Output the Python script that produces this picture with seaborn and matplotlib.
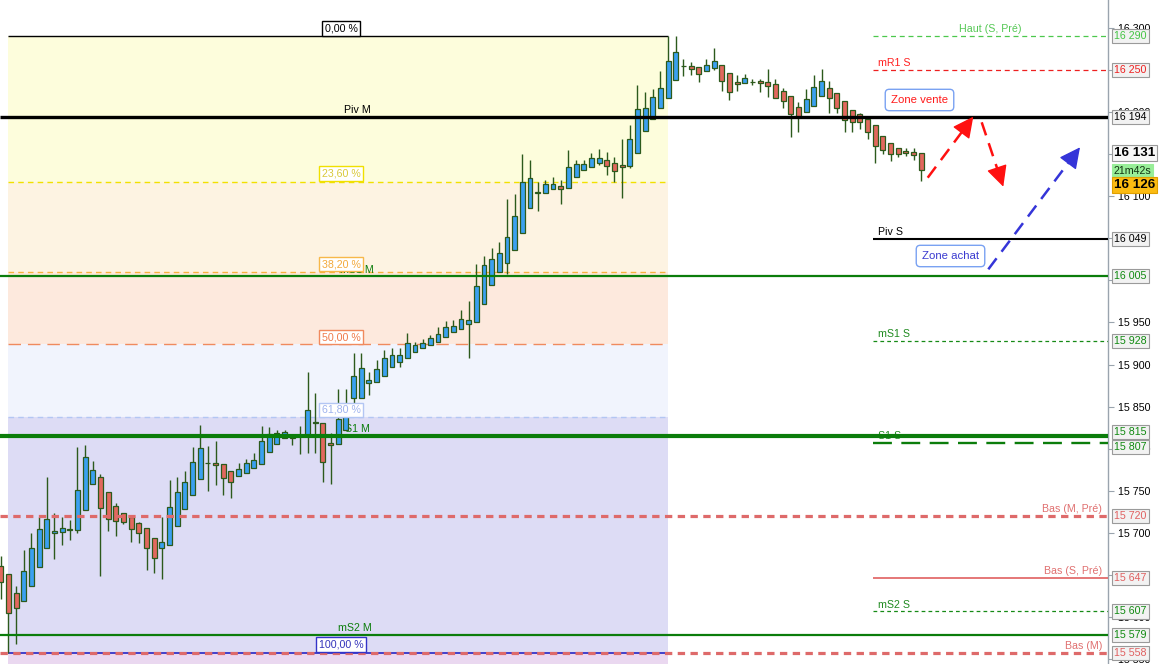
import numpy as np
import pandas as pd
import matplotlib
matplotlib.use("Agg")
import matplotlib.pyplot as plt
from matplotlib.ticker import FixedFormatter
import seaborn as sns

# ---------------- data ----------------
opens = [15661, 15651, 15629, 15619, 15637, 15660, 15682, 15700, 15701, 15704,
         15704, 15727, 15758, 15767, 15749, 15732, 15724, 15719, 15712, 15706,
         15694, 15682, 15686, 15708, 15729, 15745, 15764, 15783, 15783, 15782,
         15774, 15768, 15771, 15777, 15782, 15796, 15806, 15813, 15814, 15815,
         15815, 15831, 15831, 15807, 15806, 15822, 15860, 15860, 15878, 15879,
         15886, 15897, 15903, 15908, 15915, 15920, 15923, 15927, 15933, 15939,
         15942, 15948, 15951, 15972, 15994, 16010, 16021, 16036, 16056, 16086,
         16104, 16104, 16108, 16112, 16110, 16123, 16131, 16135, 16139, 16143,
         16139, 16137, 16136, 16151, 16177, 16192, 16205, 16216, 16238, 16254,
         16254, 16253, 16248, 16252, 16256, 16246, 16235, 16234, 16235, 16237,
         16235, 16233, 16225, 16219, 16206, 16200, 16207, 16219, 16228, 16222,
         16213, 16202, 16197, 16192, 16184, 16171, 16163, 16157, 16154, 16152,
         16151]
highs = [15673, 15651, 15637, 15680, 15700, 15719, 15767, 15724, 15719, 15716,
         15802, 15805, 15786, 15770, 15749, 15736, 15724, 15720, 15713, 15706,
         15694, 15719, 15763, 15767, 15774, 15802, 15828, 15803, 15809, 15782,
         15774, 15783, 15788, 15795, 15827, 15826, 15822, 15822, 15814, 15827,
         15891, 15866, 15831, 15819, 15871, 15871, 15914, 15914, 15891, 15905,
         15917, 15920, 15920, 15938, 15927, 15930, 15935, 15945, 15952, 15953,
         15965, 15975, 16019, 16029, 16038, 16046, 16097, 16102, 16150, 16143,
         16117, 16119, 16123, 16119, 16155, 16143, 16143, 16151, 16156, 16152,
         16146, 16168, 16184, 16232, 16224, 16227, 16248, 16290, 16290, 16263,
         16259, 16253, 16263, 16276, 16256, 16246, 16244, 16245, 16239, 16239,
         16251, 16239, 16228, 16219, 16212, 16227, 16244, 16251, 16237, 16222,
         16213, 16202, 16199, 16192, 16184, 16171, 16163, 16157, 16157, 16157,
         16151]
lows = [15622, 15558, 15568, 15619, 15637, 15660, 15682, 15669, 15686, 15692,
        15700, 15727, 15758, 15649, 15703, 15697, 15711, 15689, 15688, 15656,
        15653, 15646, 15686, 15708, 15729, 15745, 15764, 15750, 15757, 15745,
        15742, 15768, 15771, 15777, 15782, 15796, 15806, 15813, 15805, 15794,
        15795, 15795, 15761, 15758, 15806, 15822, 15852, 15860, 15864, 15879,
        15886, 15897, 15897, 15908, 15915, 15920, 15923, 15927, 15933, 15939,
        15942, 15908, 15951, 15972, 15994, 16010, 16008, 16036, 16056, 16086,
        16082, 16104, 16108, 16091, 16110, 16123, 16131, 16135, 16137, 16125,
        16117, 16098, 16133, 16151, 16177, 16192, 16205, 16216, 16238, 16243,
        16244, 16235, 16248, 16250, 16225, 16214, 16225, 16234, 16232, 16224,
        16218, 16216, 16205, 16170, 16176, 16200, 16207, 16219, 16199, 16199,
        16176, 16176, 16180, 16168, 16139, 16150, 16142, 16146, 16148, 16143,
        16118]
closes = [15642, 15605, 15611, 15655, 15682, 15705, 15717, 15703, 15706, 15704,
          15751, 15790, 15775, 15730, 15717, 15714, 15713, 15705, 15700, 15682,
          15670, 15689, 15731, 15749, 15761, 15784, 15801, 15783, 15781, 15765,
          15761, 15776, 15783, 15787, 15809, 15818, 15819, 15820, 15813, 15816,
          15846, 15831, 15784, 15805, 15835, 15849, 15886, 15896, 15882, 15895,
          15908, 15911, 15911, 15926, 15923, 15926, 15932, 15936, 15945, 15946,
          15954, 15953, 15993, 16018, 16025, 16032, 16051, 16076, 16117, 16121,
          16104, 16114, 16114, 16108, 16135, 16138, 16138, 16145, 16145, 16136,
          16130, 16135, 16168, 16203, 16205, 16218, 16228, 16260, 16271, 16254,
          16251, 16245, 16256, 16260, 16237, 16224, 16233, 16240, 16235, 16234,
          16231, 16216, 16213, 16197, 16194, 16215, 16229, 16237, 16216, 16205,
          16190, 16188, 16188, 16176, 16159, 16155, 16150, 16150, 16151, 16149,
          16131]

# Fibonacci retracement (from candle 1 low to candle 87 high)
fib_start, fib_end = 1, 87
fib_labels = ["0,00 %", "23,60 %", "38,20 %", "50,00 %", "61,80 %", "100,00 %"]
fib_prices = [16290, 16117.2, 16010.4, 15924, 15837.6, 15558]

# Monthly levels (full width)
m_names = ["Piv M", "mS1 M", "S1 M", "Bas (M, Pré)", "mS2 M", "Bas (M)"]
m_prices = [16194, 16005, 15815, 15720, 15579, 15558]

# Weekly levels (right part)
s_names = ["Haut (S, Pré)", "mR1 S", "Piv S", "mS1 S", "S1 S", "Bas (S, Pré)", "mS2 S"]
s_prices = [16290, 16250, 16049, 15928, 15807, 15647, 15607]

# axis ticks (labels hidden behind value boxes left blank)
yticks = [15550, 15600, 15650, 15700, 15750, 15800, 15850, 15900, 15950,
          16000, 16050, 16100, 16150, 16200, 16250, 16300]
ytick_labels = ["15 550", "15 600", "", "15 700", "15 750", "15 800", "15 850",
                "15 900", "15 950", "", "", "16 100", "", "16 200", "", "16 300"]

box_prices = [16290, 16250, 16194, 16049, 16005, 15928, 15815, 15807,
              15720, 15647, 15607, 15579, 15558]
last_price, bid_price, timer = 16131, 16126, "21m42s"

# ---------------- style ----------------
sns.set_theme(style="white")
plt.rcParams["font.family"] = ["Liberation Sans", "DejaVu Sans"]

W, H = 1161, 664
AXW = 1108
fig = plt.figure(figsize=(W / 100, H / 100), dpi=100)
ax = fig.add_axes([0, 0, AXW / W, 1])
ax.set_facecolor("white")
ax.set_xlim(-0.1, 144.35)
ax.set_ylim(15544.6, 16332.7)

def fx(px):
    return px / AXW

def fy(py):
    return 1 - py / H

yT = ax.get_yaxis_transform()   # x in axes fraction, y in data

df = pd.DataFrame({"o": opens, "h": highs, "l": lows, "c": closes})
df["x"] = np.arange(len(df))

# ---------------- fib zones ----------------
zone_cols = ["#fdfddc", "#fdf3e2", "#fde9dd", "#f1f4fd", "#dddcf5"]
fx_span = [fib_start, fib_end]
for i in range(5):
    ax.fill_between(fx_span, fib_prices[i + 1], fib_prices[i], color=zone_cols[i],
                    lw=0, zorder=0.5)
ax.fill_between(fx_span, 15400, fib_prices[5], color="#ead8f0", lw=0, zorder=0.5)

fib_line_styles = [
    dict(color="black", lw=1.0, ls="-"),
    dict(color="#f2e000", lw=1.0, ls=(0, (4, 3))),
    dict(color="#f7b23c", lw=1.0, ls=(0, (4, 3))),
    dict(color="#f08a5e", lw=1.0, ls=(0, (9, 5))),
    dict(color="#b3c6f3", lw=1.0, ls=(0, (4, 3))),
    dict(color="#3434c8", lw=1.3, ls="-"),
]
for p, st in zip(fib_prices, fib_line_styles):
    ax.hlines(p, fib_start, fib_end, zorder=1, **st)

fib_text_cols = ["black", "#d9c93a", "#f3a93a", "#f07a4a", "#9fb3ee", "#3333bb"]
fib_edge_cols = ["black", "#f0e000", "#f7b84a", "#f08a5e", "#b3c6f3", "#3434c8"]
fib_label_y = [28.5, 173.5, 264, 337, 410, 644.5]

# ---------------- level lines ----------------
green = "#0b7d0b"
salmon = "#de6a6a"
m_styles = [
    dict(color="black", lw=2.4, ls="-"),
    dict(color=green, lw=1.6, ls="-"),
    dict(color=green, lw=3.0, ls="-"),
    dict(color=salmon, lw=2.3, ls=(0, (2.3, 1.7))),
    dict(color=green, lw=1.6, ls="-"),
    dict(color=salmon, lw=2.3, ls=(0, (2.3, 1.7))),
]
for p, st in zip(m_prices, m_styles):
    ax.hlines(p, 0, 1, transform=yT, zorder=5, **st)

s_x0 = fx(873)
s_styles = [
    dict(color="#4cc84c", lw=0.9, ls=(0, (4, 3))),
    dict(color="#ee2020", lw=0.9, ls=(0, (4, 3))),
    dict(color="black", lw=1.5, ls="-"),
    dict(color="#168a16", lw=0.9, ls=(0, (3, 2.5))),
    dict(color=green, lw=1.7, ls=(0, (8, 4))),
    dict(color="#e06060", lw=1.2, ls="-"),
    dict(color="#168a16", lw=0.9, ls=(0, (3, 2.5))),
]
for p, st in zip(s_prices, s_styles):
    ax.hlines(p, s_x0, 1, transform=yT, zorder=5, **st)

# ---------------- candles ----------------
up = df["c"] >= df["o"]
blue, red, edge = "#3aa0f0", "#e2685e", "#2c5a1c"
body_col = np.where(up, blue, red)
bottoms = np.minimum(df["o"], df["c"])
heights = np.maximum(np.abs(df["c"] - df["o"]), 0.6)
ax.vlines(df["x"], df["l"], df["h"], color=edge, lw=1.0, zorder=3)
ax.bar(df["x"], heights, bottom=bottoms, width=0.64, color=body_col,
       edgecolor=edge, linewidth=0.9, zorder=3.5)

# ---------------- text labels ----------------
fs = 7.7
ax.text(fx(357), fy(110), "Piv M", ha="center", va="center", fontsize=fs,
        color="black", transform=ax.transAxes, zorder=6)
ax.text(fx(357), fy(270), "mS1 M", ha="center", va="center", fontsize=fs,
        color=green, transform=ax.transAxes, zorder=6)
ax.text(fx(357), fy(429), "S1 M", ha="center", va="center", fontsize=fs,
        color=green, transform=ax.transAxes, zorder=3.2)
ax.text(fx(355), fy(628), "mS2 M", ha="center", va="center", fontsize=fs,
        color=green, transform=ax.transAxes, zorder=6)

for lab, yy, tc, ec in zip(fib_labels, fib_label_y, fib_text_cols, fib_edge_cols):
    ax.text(fx(341), fy(yy), lab, ha="center", va="center", fontsize=fs, color=tc,
            transform=ax.transAxes, zorder=7,
            bbox=dict(boxstyle="square,pad=0.22", fc="white", ec=ec, lw=1.0))

ax.text(fx(990), fy(29), "Haut (S, Pré)", ha="center", va="center", fontsize=fs,
        color="#55c855", transform=ax.transAxes, zorder=6)
ax.text(fx(878), fy(63), "mR1 S", ha="left", va="center", fontsize=fs,
        color="#ff2020", transform=ax.transAxes, zorder=6)
ax.text(fx(878), fy(232), "Piv S", ha="left", va="center", fontsize=fs,
        color="black", transform=ax.transAxes, zorder=6)
ax.text(fx(878), fy(334), "mS1 S", ha="left", va="center", fontsize=fs,
        color="#1f8a1f", transform=ax.transAxes, zorder=6)
ax.text(fx(878), fy(436), "S1 S", ha="left", va="center", fontsize=fs,
        color="#1f8a1f", transform=ax.transAxes, zorder=4)
ax.text(fx(878), fy(605), "mS2 S", ha="left", va="center", fontsize=fs,
        color="#1f8a1f", transform=ax.transAxes, zorder=6)
for lab, yy in [("Bas (M, Pré)", 509), ("Bas (S, Pré)", 571), ("Bas (M)", 646)]:
    ax.text(fx(1102), fy(yy), lab, ha="right", va="center", fontsize=fs,
            color="#e07070", transform=ax.transAxes, zorder=6)

ax.text(fx(919.5), fy(100), "Zone vente", ha="center", va="center", fontsize=8.2,
        color="#ff1a1a", transform=ax.transAxes, zorder=7,
        bbox=dict(boxstyle="round,pad=0.5,rounding_size=0.35", fc="white",
                  ec="#7aa2f2", lw=1.0))
ax.text(fx(950.5), fy(256), "Zone achat", ha="center", va="center", fontsize=8.2,
        color="#3a3ad0", transform=ax.transAxes, zorder=7,
        bbox=dict(boxstyle="round,pad=0.5,rounding_size=0.35", fc="white",
                  ec="#7aa2f2", lw=1.0))

def dashed_arrow(p0, p1, color, lw=1.8):
    dx, dy = p1[0] - p0[0], p1[1] - p0[1]
    L = np.hypot(dx, dy)
    hl = 13
    pb = (p1[0] - dx / L * hl, p1[1] - dy / L * hl)
    ax.plot([fx(p0[0]), fx(pb[0])], [fy(p0[1]), fy(pb[1])], transform=ax.transAxes,
            color=color, lw=lw, ls=(0, (5.5, 3.3)), dash_capstyle="butt", zorder=8)
    ax.annotate("", xy=(fx(p1[0]), fy(p1[1])),
                xytext=(fx(pb[0] + dx / L), fy(pb[1] + dy / L)),
                xycoords="axes fraction", textcoords="axes fraction",
                arrowprops=dict(arrowstyle="-|>,head_length=1.0,head_width=0.5",
                                color=color, lw=1.0, shrinkA=0, shrinkB=0,
                                mutation_scale=13), zorder=8)

dashed_arrow((927.7, 177.7), (973.3, 116.7), "#ff1010")
dashed_arrow((981.7, 122.3), (1003.3, 186.7), "#ff1010")
dashed_arrow((988.3, 269.3), (1080.0, 147.3), "#3535d8")

# ---------------- right axis ----------------
for s in ["top", "left", "bottom"]:
    ax.spines[s].set_visible(False)
ax.spines["right"].set_color("#9aa4ae")
ax.spines["right"].set_linewidth(1.0)
ax.set_xticks([])
ax.yaxis.tick_right()
ax.set_yticks(yticks)
ax.yaxis.set_major_formatter(FixedFormatter(ytick_labels))
ax.tick_params(axis="y", which="major", direction="out", length=4, width=0.8,
               color="#9aa4ae", labelsize=fs, labelcolor="black", pad=3)

box_cols = ["#44c444", "#ee2020", "black", "black", "#108a10", "#108a10", "#108a10",
            "#108a10", "#e06060", "#e06060", "#108a10", "#108a10", "#e06060"]
box_shift_px = {15815: -4.5, 15807: 4.0}
px_per_unit = H / (16332.7 - 15544.6)
for p, c in zip(box_prices, box_cols):
    shift = box_shift_px.get(p, 0.0)
    ax.text(fx(1114), p - shift / px_per_unit, f"{p:,}".replace(",", " "),
            transform=yT, ha="left", va="center", fontsize=fs, color=c,
            clip_on=False, zorder=9,
            bbox=dict(boxstyle="square,pad=0.2", fc="#f2f2f2", ec="#9a9a9a", lw=0.8))

ax.text(fx(1114), fy(153), f"{last_price:,}".replace(",", " "), transform=ax.transAxes,
        ha="left", va="center", fontsize=9.6, fontweight="bold", color="black",
        clip_on=False, zorder=10,
        bbox=dict(boxstyle="square,pad=0.15", fc="#f7f7f7", ec="#9a9a9a", lw=0.8))
ax.text(fx(1114), fy(170.5), timer, transform=ax.transAxes,
        ha="left", va="center", fontsize=fs, color="#113311",
        clip_on=False, zorder=10,
        bbox=dict(boxstyle="square,pad=0.15", fc="#98ee98", ec="#98ee98", lw=0.8))
ax.text(fx(1114), fy(184.5), f"{bid_price:,}".replace(",", " "), transform=ax.transAxes,
        ha="left", va="center", fontsize=9.6, fontweight="bold", color="black",
        clip_on=False, zorder=10,
        bbox=dict(boxstyle="square,pad=0.15", fc="#fbbb12", ec="#e0a000", lw=0.8))

fig.savefig("out.png", dpi=100, facecolor="white")
